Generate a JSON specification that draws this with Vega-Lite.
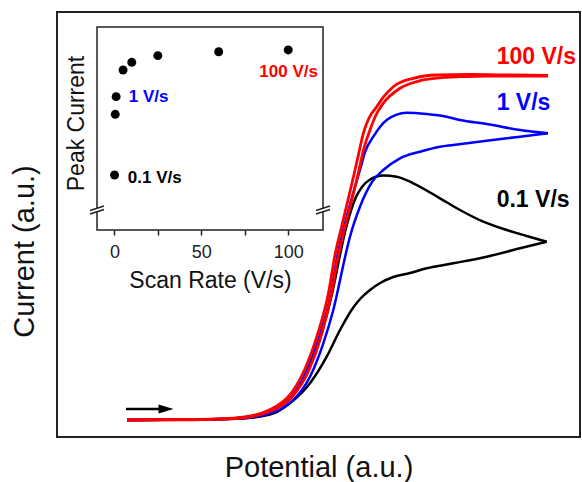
{
  "$schema": "https://vega.github.io/schema/vega-lite/v6.json",
  "width": 523,
  "height": 425,
  "autosize": "none",
  "padding": {"left": 57, "top": 12, "right": 2, "bottom": 45},
  "background": "white",
  "config": {
    "view": {"stroke": "#222", "strokeWidth": 2},
    "font": "Liberation Sans",
    "axis": {"grid": false, "titleFontWeight": "normal", "titleColor": "#111", "labelColor": "#222", "titleFont": "Liberation Sans", "labelFont": "Liberation Sans"}
  },
  "datasets": {
    "cv": [
      {"r":"0.1","d":"f","i":1,"E":13.38,"I":4.00},
      {"r":"0.1","d":"f","i":2,"E":27.34,"I":4.12},
      {"r":"0.1","d":"f","i":3,"E":34.99,"I":4.47},
      {"r":"0.1","d":"f","i":4,"E":39.20,"I":5.41},
      {"r":"0.1","d":"f","i":5,"E":42.26,"I":7.06},
      {"r":"0.1","d":"f","i":6,"E":44.74,"I":9.29},
      {"r":"0.1","d":"f","i":7,"E":47.90,"I":15.53},
      {"r":"0.1","d":"f","i":8,"E":50.57,"I":24.24},
      {"r":"0.1","d":"f","i":9,"E":52.58,"I":33.65},
      {"r":"0.1","d":"f","i":10,"E":54.11,"I":42.82},
      {"r":"0.1","d":"f","i":11,"E":55.07,"I":48.24},
      {"r":"0.1","d":"f","i":12,"E":56.12,"I":52.94},
      {"r":"0.1","d":"f","i":13,"E":57.17,"I":56.47},
      {"r":"0.1","d":"f","i":14,"E":58.32,"I":58.82},
      {"r":"0.1","d":"f","i":15,"E":59.85,"I":60.59},
      {"r":"0.1","d":"f","i":16,"E":62.39,"I":61.53},
      {"r":"0.1","d":"f","i":17,"E":64.95,"I":61.25},
      {"r":"0.1","d":"f","i":18,"E":68.13,"I":59.69},
      {"r":"0.1","d":"f","i":19,"E":73.23,"I":56.16},
      {"r":"0.1","d":"f","i":20,"E":77.06,"I":53.41},
      {"r":"0.1","d":"f","i":21,"E":81.51,"I":50.66},
      {"r":"0.1","d":"f","i":22,"E":85.99,"I":48.71},
      {"r":"0.1","d":"f","i":23,"E":89.81,"I":47.29},
      {"r":"0.1","d":"f","i":24,"E":93.63,"I":45.95},
      {"r":"0.1","d":"b","i":1,"E":93.63,"I":45.95},
      {"r":"0.1","d":"b","i":2,"E":88.53,"I":44.40},
      {"r":"0.1","d":"b","i":3,"E":82.16,"I":42.42},
      {"r":"0.1","d":"b","i":4,"E":75.77,"I":40.87},
      {"r":"0.1","d":"b","i":5,"E":70.69,"I":39.69},
      {"r":"0.1","d":"b","i":6,"E":67.50,"I":38.59},
      {"r":"0.1","d":"b","i":7,"E":64.05,"I":37.53},
      {"r":"0.1","d":"b","i":8,"E":61.95,"I":36.35},
      {"r":"0.1","d":"b","i":9,"E":59.85,"I":34.59},
      {"r":"0.1","d":"b","i":10,"E":58.13,"I":32.71},
      {"r":"0.1","d":"b","i":11,"E":56.65,"I":30.47},
      {"r":"0.1","d":"b","i":12,"E":54.11,"I":25.18},
      {"r":"0.1","d":"b","i":13,"E":51.57,"I":18.89},
      {"r":"0.1","d":"b","i":14,"E":48.37,"I":12.64},
      {"r":"0.1","d":"b","i":15,"E":44.55,"I":7.93},
      {"r":"0.1","d":"b","i":16,"E":42.01,"I":5.88},
      {"r":"0.1","d":"b","i":17,"E":38.81,"I":4.82},
      {"r":"0.1","d":"b","i":18,"E":33.08,"I":4.24},
      {"r":"0.1","d":"b","i":19,"E":13.38,"I":4.00},
      {"r":"1","d":"f","i":1,"E":13.38,"I":4.00},
      {"r":"1","d":"f","i":2,"E":27.34,"I":4.12},
      {"r":"1","d":"f","i":3,"E":34.99,"I":4.47},
      {"r":"1","d":"f","i":4,"E":39.20,"I":5.41},
      {"r":"1","d":"f","i":5,"E":42.26,"I":6.94},
      {"r":"1","d":"f","i":6,"E":44.74,"I":9.29},
      {"r":"1","d":"f","i":7,"E":47.80,"I":15.76},
      {"r":"1","d":"f","i":8,"E":50.38,"I":24.47},
      {"r":"1","d":"f","i":9,"E":52.39,"I":33.88},
      {"r":"1","d":"f","i":10,"E":53.63,"I":42.82},
      {"r":"1","d":"f","i":11,"E":54.88,"I":49.41},
      {"r":"1","d":"f","i":12,"E":56.79,"I":58.12},
      {"r":"1","d":"f","i":13,"E":57.93,"I":62.82},
      {"r":"1","d":"f","i":14,"E":58.89,"I":67.06},
      {"r":"1","d":"f","i":15,"E":60.48,"I":70.66},
      {"r":"1","d":"f","i":16,"E":63.04,"I":74.59},
      {"r":"1","d":"f","i":17,"E":66.86,"I":76.31},
      {"r":"1","d":"f","i":18,"E":70.69,"I":76.00},
      {"r":"1","d":"f","i":19,"E":74.51,"I":75.36},
      {"r":"1","d":"f","i":20,"E":77.06,"I":74.59},
      {"r":"1","d":"f","i":21,"E":82.16,"I":73.65},
      {"r":"1","d":"f","i":22,"E":88.53,"I":72.24},
      {"r":"1","d":"f","i":23,"E":93.88,"I":71.46},
      {"r":"1","d":"b","i":1,"E":93.88,"I":71.46},
      {"r":"1","d":"b","i":2,"E":88.53,"I":70.66},
      {"r":"1","d":"b","i":3,"E":82.16,"I":69.72},
      {"r":"1","d":"b","i":4,"E":75.77,"I":68.71},
      {"r":"1","d":"b","i":5,"E":73.23,"I":68.31},
      {"r":"1","d":"b","i":6,"E":69.41,"I":67.13},
      {"r":"1","d":"b","i":7,"E":65.58,"I":65.58},
      {"r":"1","d":"b","i":8,"E":62.39,"I":62.82},
      {"r":"1","d":"b","i":9,"E":60.23,"I":60.00},
      {"r":"1","d":"b","i":10,"E":57.93,"I":54.19},
      {"r":"1","d":"b","i":11,"E":56.02,"I":47.13},
      {"r":"1","d":"b","i":12,"E":55.39,"I":44.00},
      {"r":"1","d":"b","i":13,"E":52.83,"I":29.88},
      {"r":"1","d":"b","i":14,"E":50.92,"I":22.05},
      {"r":"1","d":"b","i":15,"E":48.37,"I":14.19},
      {"r":"1","d":"b","i":16,"E":45.18,"I":8.71},
      {"r":"1","d":"b","i":17,"E":42.83,"I":6.59},
      {"r":"1","d":"b","i":18,"E":39.96,"I":5.29},
      {"r":"1","d":"b","i":19,"E":35.95,"I":4.47},
      {"r":"1","d":"b","i":20,"E":27.34,"I":4.12},
      {"r":"1","d":"b","i":21,"E":13.38,"I":4.00},
      {"r":"100","d":"f","i":1,"E":13.38,"I":4.00},
      {"r":"100","d":"f","i":2,"E":23.52,"I":4.05},
      {"r":"100","d":"f","i":3,"E":31.17,"I":4.24},
      {"r":"100","d":"f","i":4,"E":35.95,"I":4.71},
      {"r":"100","d":"f","i":5,"E":39.20,"I":5.65},
      {"r":"100","d":"f","i":6,"E":41.87,"I":7.18},
      {"r":"100","d":"f","i":7,"E":44.17,"I":9.41},
      {"r":"100","d":"f","i":8,"E":47.32,"I":15.76},
      {"r":"100","d":"f","i":9,"E":49.90,"I":24.47},
      {"r":"100","d":"f","i":10,"E":51.91,"I":33.88},
      {"r":"100","d":"f","i":11,"E":53.15,"I":42.82},
      {"r":"100","d":"f","i":12,"E":54.40,"I":49.41},
      {"r":"100","d":"f","i":13,"E":56.41,"I":59.76},
      {"r":"100","d":"f","i":14,"E":56.98,"I":62.82},
      {"r":"100","d":"f","i":15,"E":57.84,"I":67.53},
      {"r":"100","d":"f","i":16,"E":58.57,"I":71.46},
      {"r":"100","d":"f","i":17,"E":59.66,"I":75.06},
      {"r":"100","d":"f","i":18,"E":61.13,"I":77.72},
      {"r":"100","d":"f","i":19,"E":62.52,"I":80.12},
      {"r":"100","d":"f","i":20,"E":64.30,"I":82.42},
      {"r":"100","d":"f","i":21,"E":68.13,"I":84.40},
      {"r":"100","d":"f","i":22,"E":72.60,"I":85.18},
      {"r":"100","d":"f","i":23,"E":78.97,"I":85.29},
      {"r":"100","d":"f","i":24,"E":86.62,"I":85.18},
      {"r":"100","d":"f","i":25,"E":93.88,"I":85.06},
      {"r":"100","d":"b","i":1,"E":93.88,"I":84.94},
      {"r":"100","d":"b","i":2,"E":82.16,"I":84.94},
      {"r":"100","d":"b","i":3,"E":77.06,"I":84.78},
      {"r":"100","d":"b","i":4,"E":74.51,"I":84.64},
      {"r":"100","d":"b","i":5,"E":69.41,"I":83.84},
      {"r":"100","d":"b","i":6,"E":65.58,"I":82.05},
      {"r":"100","d":"b","i":7,"E":62.39,"I":78.52},
      {"r":"100","d":"b","i":8,"E":60.99,"I":75.76},
      {"r":"100","d":"b","i":9,"E":59.85,"I":72.24},
      {"r":"100","d":"b","i":10,"E":58.60,"I":67.53},
      {"r":"100","d":"b","i":11,"E":57.74,"I":62.82},
      {"r":"100","d":"b","i":12,"E":57.17,"I":59.76},
      {"r":"100","d":"b","i":13,"E":55.07,"I":49.41},
      {"r":"100","d":"b","i":14,"E":53.82,"I":42.82},
      {"r":"100","d":"b","i":15,"E":52.49,"I":33.88},
      {"r":"100","d":"b","i":16,"E":50.67,"I":24.47},
      {"r":"100","d":"b","i":17,"E":48.18,"I":15.76},
      {"r":"100","d":"b","i":18,"E":44.93,"I":9.41},
      {"r":"100","d":"b","i":19,"E":42.64,"I":7.18},
      {"r":"100","d":"b","i":20,"E":39.58,"I":5.53},
      {"r":"100","d":"b","i":21,"E":35.95,"I":4.59},
      {"r":"100","d":"b","i":22,"E":29.25,"I":4.16},
      {"r":"100","d":"b","i":23,"E":13.38,"I":4.00}
    ],
    "labels": [
      {"t":"100 V/s","E":84.07,"I":87.69,"c":"#FF0000"},
      {"t":"1 V/s","E":84.07,"I":76.94,"c":"#0000FF"},
      {"t":"0.1 V/s","E":84.07,"I":54.19,"c":"#000000"}
    ],
    "arrow": [{"E0":13.19,"E1":19.9,"Eh":20.84,"I":6.59}],
    "peaks": [
      {"sr":0.1,"pc":0.271},
      {"sr":0.5,"pc":0.570},
      {"sr":1,"pc":0.657},
      {"sr":5,"pc":0.788},
      {"sr":10,"pc":0.826},
      {"sr":25,"pc":0.859},
      {"sr":60,"pc":0.878},
      {"sr":100,"pc":0.887}
    ],
    "insetLabels": [
      {"t":"0.1 V/s","sr":7.7,"pc":0.230,"c":"#000000"},
      {"t":"1 V/s","sr":8.3,"pc":0.632,"c":"#0000FF"},
      {"t":"100 V/s","sr":83.4,"pc":0.752,"c":"#FF0000"}
    ],
    "frame": [{"x0":-10,"x1":120,"y0":0,"y1":1}],
    "breaks": [{"sr":-10,"pc":0.0985},{"sr":120,"pc":0.0985}]
  },
  "layer": [
    {
      "layer": [
        {
          "data": {"name": "cv"},
          "transform": [{"filter": "datum.r === '0.1'"}],
          "mark": {"type": "line", "color": "#000000", "strokeWidth": 2.5, "interpolate": "monotone"},
          "encoding": {
            "x": {"field": "E", "type": "quantitative", "scale": {"domain": [0, 100], "nice": false, "zero": false},
              "axis": {"title": "Potential (a.u.)", "ticks": false, "labels": false, "domain": false, "titleFontSize": 29, "titleY": 39.7, "titleBaseline": "alphabetic"}},
            "y": {"field": "I", "type": "quantitative", "scale": {"domain": [0, 100], "nice": false, "zero": false},
              "axis": {"title": "Current (a.u.)", "ticks": false, "labels": false, "domain": false, "titleFontSize": 29, "titleX": -23.7, "titleY": 239, "titleBaseline": "alphabetic", "titleAngle": 270}},
            "order": {"field": "i", "type": "quantitative"},
            "detail": {"field": "d"}
          }
        },
        {
          "data": {"name": "cv"},
          "transform": [{"filter": "datum.r === '1'"}],
          "mark": {"type": "line", "color": "#0000FF", "strokeWidth": 2.5, "interpolate": "monotone"},
          "encoding": {
            "x": {"field": "E", "type": "quantitative"},
            "y": {"field": "I", "type": "quantitative"},
            "order": {"field": "i", "type": "quantitative"},
            "detail": {"field": "d"}
          }
        },
        {
          "data": {"name": "cv"},
          "transform": [{"filter": "datum.r === '100'"}],
          "mark": {"type": "line", "color": "#FF0000", "strokeWidth": 2.8, "interpolate": "monotone"},
          "encoding": {
            "x": {"field": "E", "type": "quantitative"},
            "y": {"field": "I", "type": "quantitative"},
            "order": {"field": "i", "type": "quantitative"},
            "detail": {"field": "d"}
          }
        },
        {
          "data": {"name": "arrow"},
          "mark": {"type": "rule", "color": "#000000", "strokeWidth": 2.5},
          "encoding": {
            "x": {"field": "E0", "type": "quantitative"},
            "x2": {"field": "E1"},
            "y": {"field": "I", "type": "quantitative"}
          }
        },
        {
          "data": {"name": "arrow"},
          "mark": {"type": "point", "shape": "M-1,-0.6L1,0L-1,0.6Z", "filled": true, "color": "#000000", "size": 225, "opacity": 1},
          "encoding": {
            "x": {"field": "Eh", "type": "quantitative"},
            "y": {"field": "I", "type": "quantitative"}
          }
        },
        {
          "data": {"name": "labels"},
          "mark": {"type": "text", "align": "left", "baseline": "alphabetic", "fontSize": 23, "fontWeight": "bold", "font": "Liberation Sans"},
          "encoding": {
            "x": {"field": "E", "type": "quantitative"},
            "y": {"field": "I", "type": "quantitative"},
            "text": {"field": "t"},
            "color": {"field": "c", "type": "nominal", "scale": null}
          }
        }
      ]
    },
    {
      "layer": [
        {
          "data": {"name": "frame"},
          "mark": {"type": "rect", "filled": false, "stroke": "#222", "strokeWidth": 1.5},
          "encoding": {
            "x": {"field": "x0", "type": "quantitative",
              "scale": {"domain": [-10, 120], "range": [40, 266], "nice": false, "zero": false},
              "axis": {"orient": "bottom", "offset": -207, "values": [0, 25, 50, 75, 100],
                "labelExpr": "datum.value % 50 === 0 ? datum.label : ''",
                "tickSize": 5, "tickWidth": 1.5, "tickColor": "#222", "labelFontSize": 18, "labelPadding": 8,
                "domain": false, "title": "Scan Rate (V/s)", "titleFontSize": 23, "titleY": 57.3, "titleBaseline": "alphabetic"}},
            "x2": {"field": "x1"},
            "y": {"field": "y0", "type": "quantitative",
              "scale": {"domain": [0, 1], "range": [218, 15], "nice": false, "zero": false},
              "axis": {"orient": "left", "offset": -40, "ticks": false, "labels": false, "domain": false,
                "title": "Peak Current", "titleFontSize": 23, "titleX": -14, "titleY": 111, "titleBaseline": "alphabetic", "titleAngle": 270}},
            "y2": {"field": "y1"}
          }
        },
        {
          "data": {"name": "breaks"},
          "mark": {"type": "point", "shape": "M-1,0.07L1,-0.57L1,-0.07L-1,0.57Z", "filled": true, "color": "white", "size": 196, "opacity": 1},
          "encoding": {
            "x": {"field": "sr", "type": "quantitative"},
            "y": {"field": "pc", "type": "quantitative"}
          }
        },
        {
          "data": {"name": "breaks"},
          "mark": {"type": "point", "shape": "M-1,0.07L1,-0.57M-1,0.57L1,-0.07", "filled": false, "color": "#222", "strokeWidth": 1.5, "size": 196, "opacity": 1},
          "encoding": {
            "x": {"field": "sr", "type": "quantitative"},
            "y": {"field": "pc", "type": "quantitative"}
          }
        },
        {
          "data": {"name": "peaks"},
          "mark": {"type": "circle", "color": "#000000", "size": 80, "opacity": 1},
          "encoding": {
            "x": {"field": "sr", "type": "quantitative"},
            "y": {"field": "pc", "type": "quantitative"}
          }
        },
        {
          "data": {"name": "insetLabels"},
          "mark": {"type": "text", "align": "left", "baseline": "alphabetic", "fontSize": 17, "fontWeight": "bold", "font": "Liberation Sans"},
          "encoding": {
            "x": {"field": "sr", "type": "quantitative"},
            "y": {"field": "pc", "type": "quantitative"},
            "text": {"field": "t"},
            "color": {"field": "c", "type": "nominal", "scale": null}
          }
        }
      ]
    }
  ],
  "resolve": {"scale": {"x": "independent", "y": "independent"}, "axis": {"x": "independent", "y": "independent"}}
}
